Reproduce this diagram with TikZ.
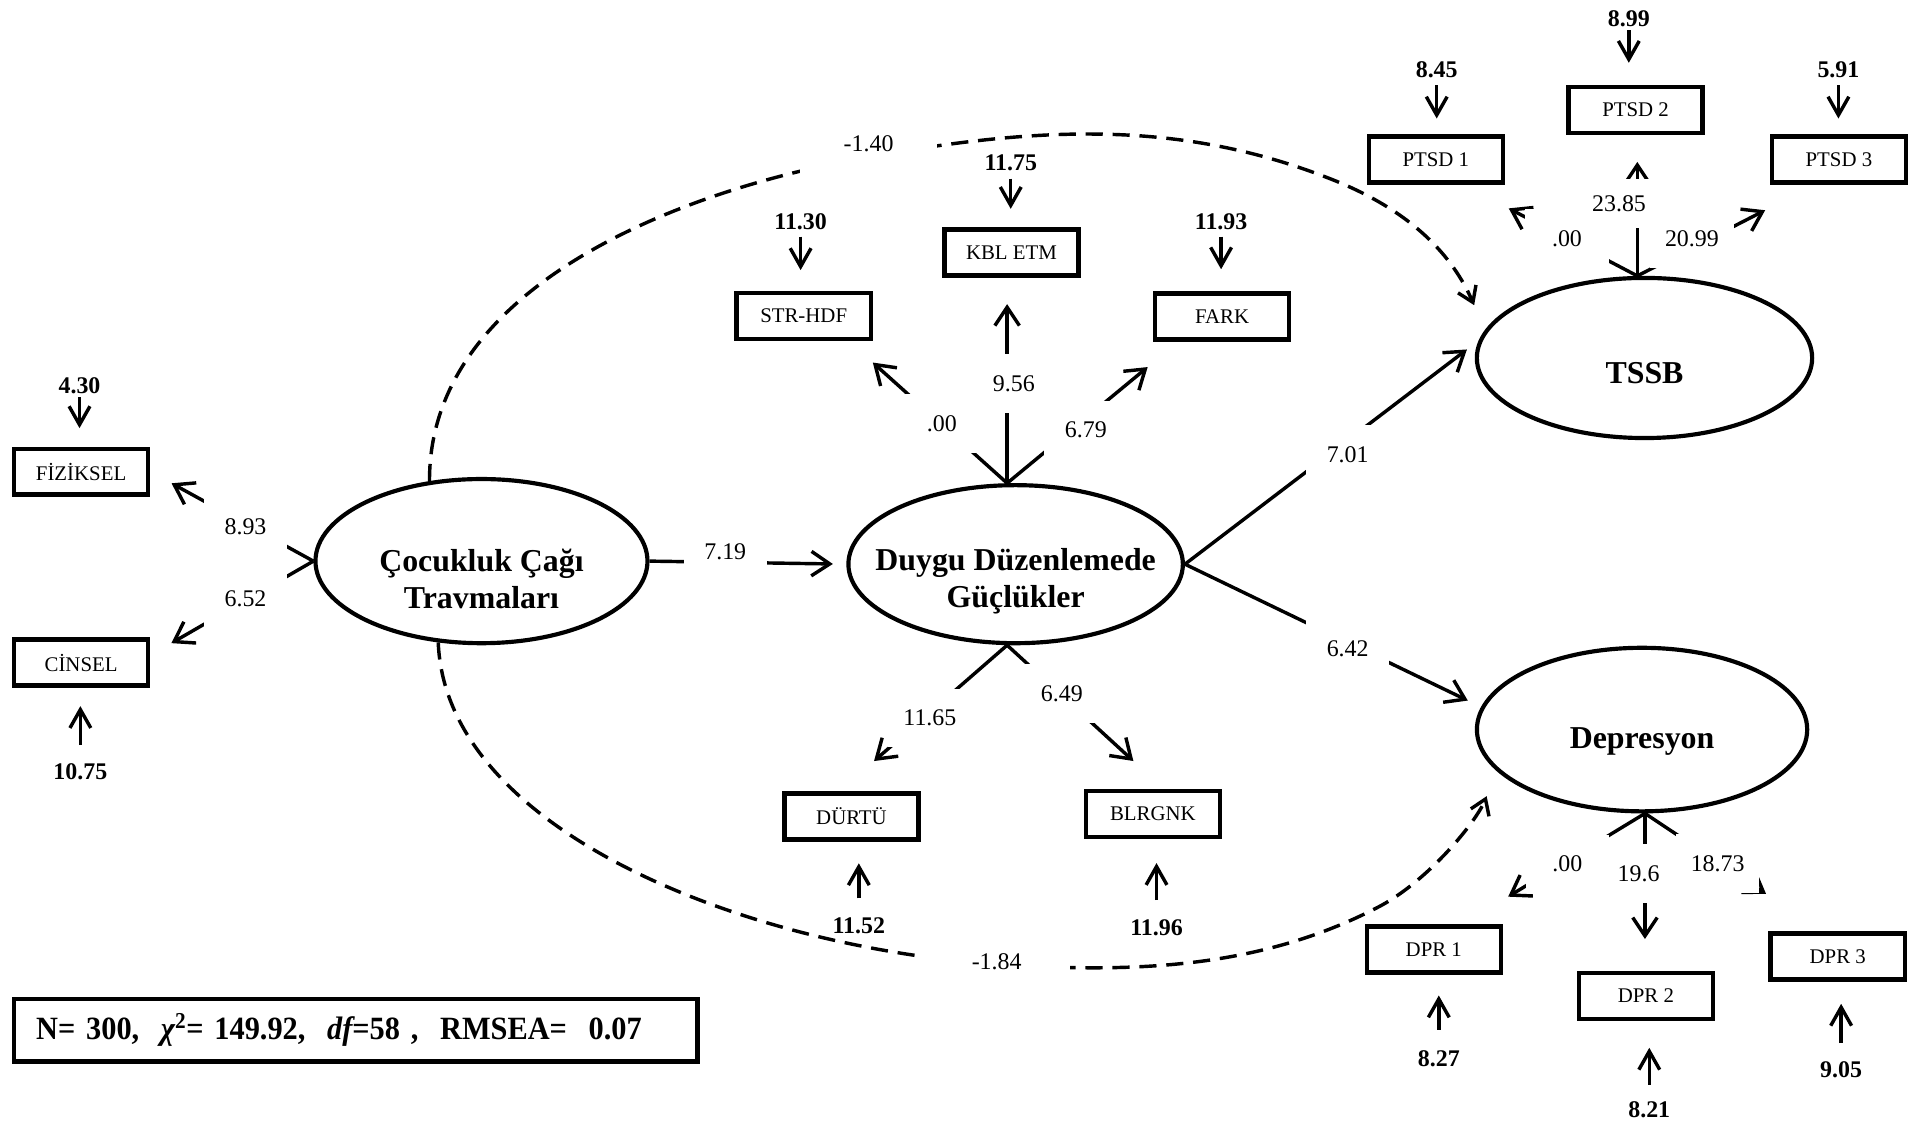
\documentclass[tikz,border=0pt]{standalone}
\usepackage{fontspec}
\setmainfont{Liberation Serif}
\newfontfamily\fitfont[FakeStretch=0.935]{Liberation Serif}
\usetikzlibrary{arrows.meta,shapes.geometric}
\tikzset{
  obs/.style={draw, rectangle, line width=3.6pt, minimum width=109.5pt, minimum height=37.5pt, inner sep=0pt, font=\fontsize{17}{20}\selectfont},
  lat/.style={draw, ellipse, line width=3.4pt, inner sep=0pt, align=center, font=\fontsize{26}{30}\selectfont\bfseries},
  vr/.style={inner sep=0pt, font=\fontsize{19.5}{22}\selectfont\bfseries},
  coef/.style={fill=white, inner sep=0pt, minimum width=68pt, minimum height=48pt, font=\fontsize{19.5}{22}\selectfont},
  ln/.style={line width=2.8pt, -{Straight Barb[length=15pt,width=20pt]}},
  vln/.style={line width=2.8pt, -{Straight Barb[length=15pt,width=17pt]}},
  dln/.style={line width=2.8pt, dash pattern=on 14pt off 8pt, -{Straight Barb[length=12pt,width=16pt]}},
  fitbox/.style={draw, rectangle, line width=3.8pt, minimum width=558pt, minimum height=51pt, inner sep=0pt, text width=522pt, align=left, font=\fitfont\fontsize{26.5}{30}\selectfont\bfseries}
}
\begin{document}
\begin{tikzpicture}[x=1pt,y=-1pt]
\useasboundingbox (0,0) rectangle (1568,918);

% latent variables
\node[lat, minimum width=271pt, minimum height=134pt] (cct) at (393,458) {\rule{0pt}{47pt}\makebox[0pt]{Çocukluk Çağı}\\\makebox[0pt]{Travmaları}};
\node[lat, minimum width=273pt, minimum height=129pt, font=\fontsize{26}{30.5}\selectfont\bfseries] (ddg) at (829,460.5) {\rule{0pt}{45.8pt}\makebox[0pt]{Duygu Düzenlemede}\\\makebox[0pt]{Güçlükler}};
\node[lat, minimum width=273.7pt, minimum height=130.7pt] (tssb) at (1342.3,292.2) {\rule{0pt}{42.6pt}\makebox[0pt]{TSSB}};
\node[lat, minimum width=269.6pt, minimum height=133.5pt] (dep) at (1340.3,595.5) {\rule{0pt}{36.6pt}\makebox[0pt]{Depresyon}};

% observed variables
\node[obs] (fiz) at (66.2,385) {FİZİKSEL};
\node[obs] (cin) at (66.2,540.8) {CİNSEL};
\node[obs] (str) at (656,258) {STR-HDF};
\node[obs] (kbl) at (825.6,206) {KBL ETM};
\node[obs] (fark) at (997.5,258.3) {FARK};
\node[obs] (durtu) at (695,666.5) {DÜRTÜ};
\node[obs] (blrgnk) at (941,664.3) {BLRGNK};
\node[obs] (ptsd1) at (1172,130.3) {PTSD 1};
\node[obs] (ptsd2) at (1335,89.8) {PTSD 2};
\node[obs] (ptsd3) at (1501,130.3) {PTSD 3};
\node[obs] (dpr1) at (1170.3,775) {DPR 1};
\node[obs] (dpr2) at (1343.4,813) {DPR 2};
\node[obs] (dpr3) at (1500,780.6) {DPR 3};

% error variances
\node[vr] (e1) at (64.9,314.5) {4.30};
\node[vr] (e2) at (65.6,630) {10.75};
\node[vr] (e3) at (653.5,181) {11.30};
\node[vr] (e4) at (825,132.5) {11.75};
\node[vr] (e5) at (996.7,181) {11.93};
\node[vr] (e6) at (701,756) {11.52};
\node[vr] (e7) at (944,757.6) {11.96};
\node[vr] (e8) at (1172.7,57) {8.45};
\node[vr] (e9) at (1329.5,15) {8.99};
\node[vr] (e10) at (1500.6,57) {5.91};
\node[vr] (e11) at (1174.4,864) {8.27};
\node[vr] (e12) at (1346.2,906) {8.21};
\node[vr] (e13) at (1502.8,873.5) {9.05};

\draw[vln, shorten <=3pt, shorten >=15pt] (e1) -- (e1 |- fiz.north);
\draw[vln, shorten <=15pt, shorten >=15pt] (e2) -- (e2 |- cin.south);
\draw[vln, shorten <=5.4pt, shorten >=17pt] (e3) -- (e3 |- str.north);
\draw[vln, shorten <=6.6pt, shorten >=15pt] (e4) -- (e4 |- kbl.north);
\draw[vln, shorten <=5.4pt, shorten >=18pt] (e5) -- (e5 |- fark.north);
\draw[vln, shorten <=16pt, shorten >=17.6pt] (e6) -- (e6 |- durtu.south);
\draw[vln, shorten <=16pt, shorten >=19.6pt] (e7) -- (e7 |- blrgnk.south);
\draw[vln, shorten <=5.8pt, shorten >=13pt] (e8) -- (e8 |- ptsd1.north);
\draw[vln, shorten <=2.9pt, shorten >=18pt] (e9) -- (e9 |- ptsd2.north);
\draw[vln, shorten <=5.8pt, shorten >=13pt] (e10) -- (e10 |- ptsd3.north);
\draw[vln, shorten <=16.6pt, shorten >=17pt] (e11) -- (e11 |- dpr1.south);
\draw[vln, shorten <=13.7pt, shorten >=21.7pt] (e12) -- (e12 |- dpr2.south);
\draw[vln, shorten <=15.2pt, shorten >=18.2pt] (e13) -- (e13 |- dpr3.south);

% loadings and paths
\draw[ln, shorten >=19.7pt] (cct.west) -- (fiz.east);
\draw[ln, shorten >=19.8pt] (cct.west) -- (cin.6);
\draw[ln, shorten >=11pt] (cct.east) -- (ddg.west);
\draw[ln, shorten >=26pt] (ddg.96) -- (str.331);
\draw[ln, shorten >=21.7pt] (ddg.96) -- (ddg.96 |- kbl.south);
\draw[ln, shorten >=32.6pt] (ddg.96) -- (fark.210);
\draw[ln, shorten >=37.7pt] (ddg.264) -- (durtu.116);
\draw[ln, shorten >=33.4pt] (ddg.264) -- (blrgnk.67);
\draw[ln, shorten >=12pt] (ddg.east) -- (tssb.174);
\draw[ln, shorten >=12pt] (ddg.east) -- (dep.172);
\draw[ln, shorten >=41.4pt] (tssb.95) -- (ptsd1.318);
\draw[ln, shorten >=21.8pt] (tssb.95) -- (tssb.95 |- ptsd2.south);
\draw[ln, shorten >=45.4pt] (tssb.95) -- (ptsd3.226);
\draw[ln, shorten >=43.4pt] (dep.272) -- (dpr1.41);
\draw[ln, shorten >=26pt] (dep.272) -- (dep.272 |- dpr2.north);
\draw[ln, shorten >=54.8pt] (dep.272) -- (dpr3.122);

% covariances (dashed)
\draw[dln, shorten >=22pt] (cct.123) .. controls (350,240) and (540,158) .. (709,128) .. controls (839,105.3) and (958.5,95) .. (1088.5,147) .. controls (1153.5,173) and (1185.8,209.4) .. (tssb.170);
\draw[dln, shorten >=22pt] (cct.242) .. controls (364,680) and (613.5,773.6) .. (813.5,787) .. controls (923.5,794.4) and (1028.4,791) .. (1125.7,740) .. controls (1165.5,719.1) and (1204.7,671.2) .. (dep.196);

% coefficient labels
\node[coef] (c893) at (200.4,430) {8.93};
\node[coef] (c652) at (200.4,488.4) {6.52};
\node[coef] (c719) at (592,450.3) {7.19};
\node[coef] (c000a) at (768.8,345.6) {.00};
\node[coef] (c956) at (827.5,312.9) {9.56};
\node[coef] (c679) at (886.3,351) {6.79};
\node[coef] (c1165) at (759,586) {11.65};
\node[coef] (c649) at (866.7,566) {6.49};
\node[coef] (c701) at (1100,371) {7.01};
\node[coef] (c642) at (1100,529.2) {6.42};
\node[coef] (c000b) at (1279,194.6) {.00};
\node[coef, minimum height=40pt] (c2385) at (1321.5,166) {23.85};
\node[coef] (c2099) at (1381,194.6) {20.99};
\node[coef] (c000c) at (1279.3,705.3) {.00};
\node[coef] (c196) at (1337.5,712.9) {19.6};
\node[coef] (c1873) at (1402,704.7) {18.73};
\node[coef, minimum width=112pt, minimum height=44pt] (c140) at (709,120) {\raisebox{3pt}[\height][\depth]{-1.40}};
\node[coef, minimum width=120pt, minimum height=40pt] (c184) at (813.5,785) {-1.84};

% fit indices
\node[fitbox] (fit) at (290.5,840.8) {N= 300,\ \ {\itshape χ}\textsuperscript{2}= 149.92,\ \ {\itshape df}=58 ,\ \ RMSEA=\ \ 0.07};
\end{tikzpicture}
\end{document}
